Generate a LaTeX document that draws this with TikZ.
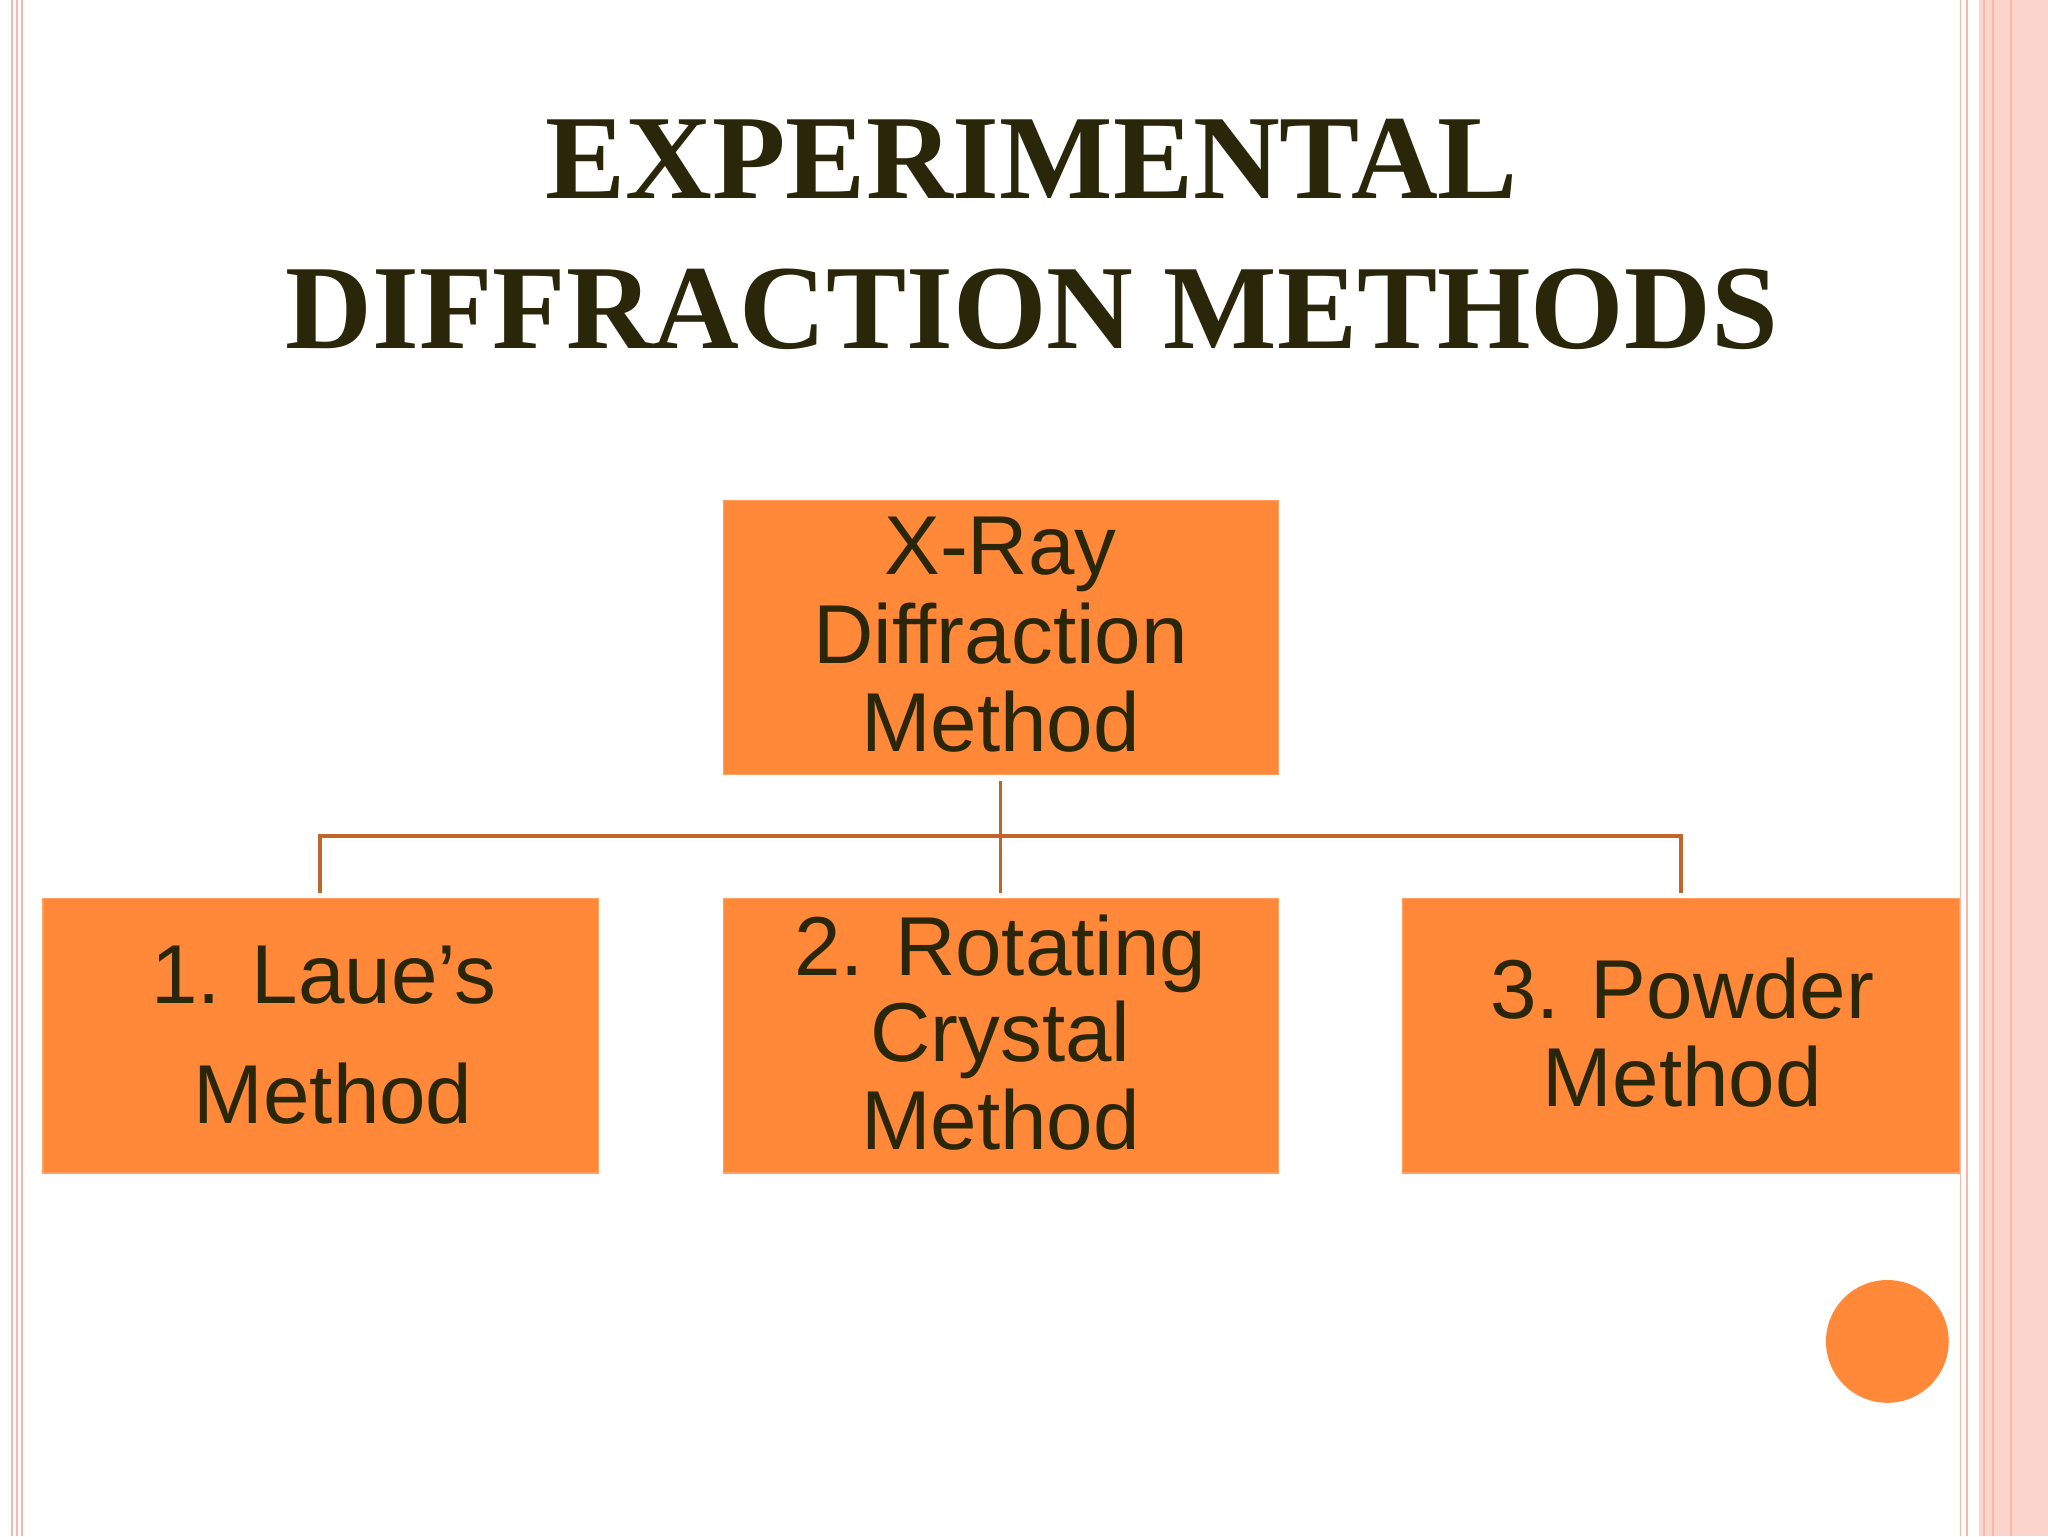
\documentclass[tikz,border=0pt]{standalone}
\usepackage{fontspec}
\setmainfont{Liberation Serif}
\setsansfont{Liberation Sans}
\definecolor{boxo}{HTML}{FF8839}
\definecolor{linko}{HTML}{C2652B}
\definecolor{txt}{HTML}{2A260A}
\definecolor{pinkl}{HTML}{F8B8A8}
\begin{document}
\begin{tikzpicture}[x=1pt,y=-1pt,
  box/.style={fill=boxo,draw=boxo!80!white,line width=1pt},
  link/.style={draw=linko,line width=3pt},
  lbl/.style={font=\sffamily\fontsize{64}{64}\selectfont,text=txt,inner sep=0pt,anchor=base}]
\useasboundingbox[fill=white] (0,0) rectangle (1568,1176);
% borders
\foreach \x in {9,13,17}{\draw[pinkl,line width=1.5pt] (\x,0) -- (\x,1176);}
\fill[pinkl!60] (1515,0) rectangle (1568,1176);
\foreach \x in {1501,1506,1519,1526,1540}{\draw[pinkl,line width=1.5pt] (\x,0) -- (\x,1176);}
% title
\node[font=\bfseries\fontsize{92}{92}\selectfont,text=txt,anchor=base,inner sep=0pt] (t1) at (790,152) {EXPERIMENTAL};
\node[font=\bfseries\fontsize{92}{92}\selectfont,text=txt,anchor=base,inner sep=0pt] (t2) at (790,267) {DIFFRACTION METHODS};
% boxes
\path[box] (554,383) rectangle (979,593);
\path[box] (33,688) rectangle (458,898);
\path[box] (554,688) rectangle (979,898);
\path[box] (1074,688) rectangle (1500,898);
\coordinate (top) at (766,598);
\coordinate (mid) at (766,640);
\coordinate (l) at (245,640);
\coordinate (r) at (1287,640);
\coordinate (lb) at (245,684);
\coordinate (cb) at (766,684);
\coordinate (rb) at (1287,684);
\draw[link] (top) -- (cb);
\draw[link] (lb) -- (l) -- (r) -- (rb);
% texts
\node[lbl] (a1) at (766,440) {X-Ray};
\node[lbl] (a2) at (766,508) {Diffraction};
\node[lbl] (a3) at (766,575) {Method};
\node[lbl] (b1) at (248,768) {1. Laue’s};
\node[lbl] (b2) at (255,860) {Method};
\node[lbl] (c1) at (766,747) {2. Rotating};
\node[lbl] (c2) at (766,813) {Crystal};
\node[lbl] (c3) at (766,880) {Method};
\node[lbl] (d1) at (1288,780) {3. Powder};
\node[lbl] (d2) at (1288,847) {Method};
\fill[boxo] (1445,1027) circle (47);
\end{tikzpicture}
\end{document}
